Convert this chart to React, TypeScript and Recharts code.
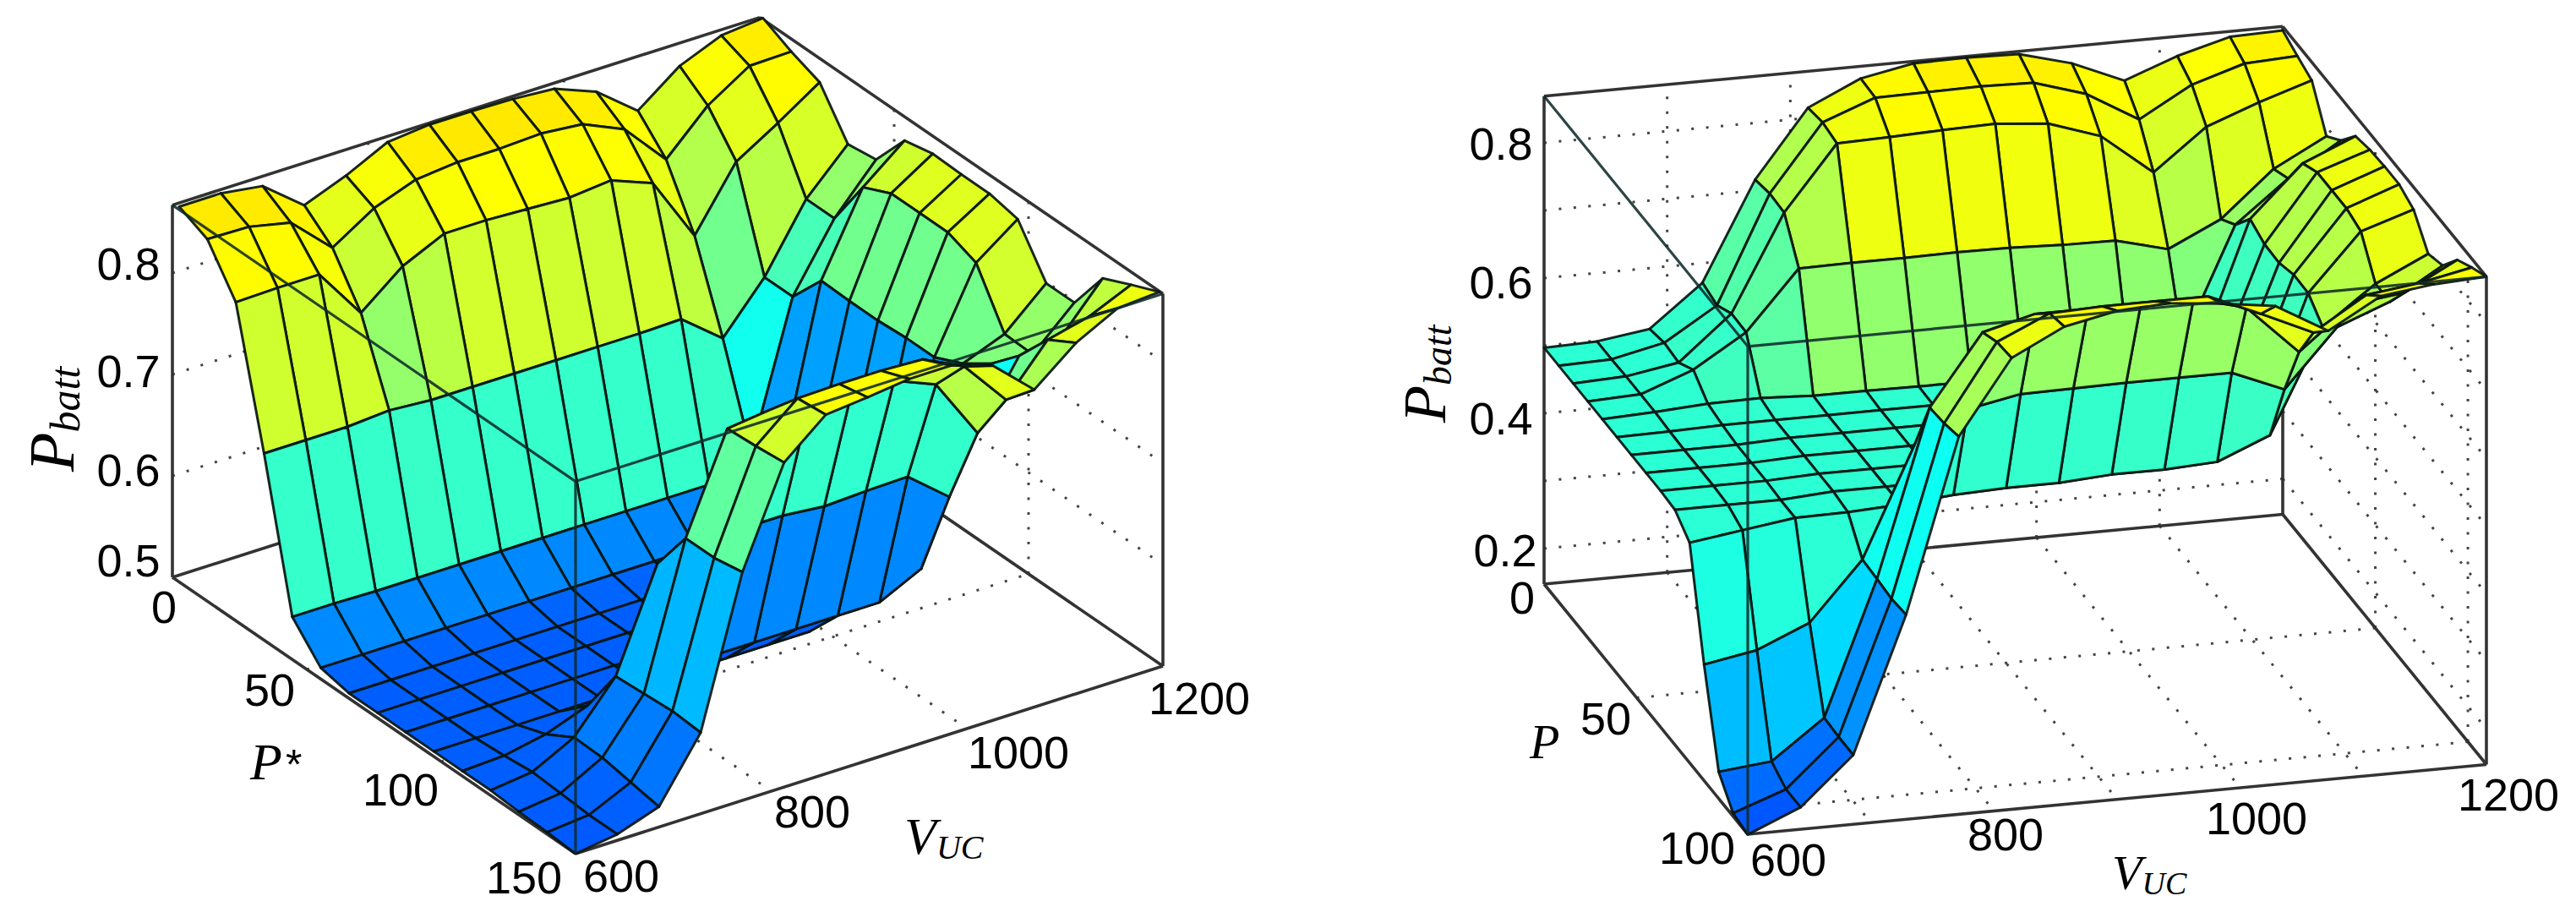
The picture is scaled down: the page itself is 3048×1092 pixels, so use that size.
import React from "react";
import { ScatterChart, Scatter, XAxis, YAxis } from "recharts";

// ---------- left panel data: P* (rows) x VUC (columns) -> Pbatt ----------
const leftP = [2.5, 13, 23.6, 34.1, 44.6, 55.2, 65.7, 76.3, 86.8, 97.3, 107.9, 118.4, 128.9, 139.5, 150];
const leftV = [600, 642.6, 685.2, 727.8, 770.4, 813, 855.6, 898.2, 940.8, 983.4, 1026, 1068.6, 1111.2, 1153.8, 1196.4];
const leftRow0 = [0.87, 0.87, 0.864, 0.832, 0.848, 0.868, 0.872, 0.872, 0.871, 0.868, 0.852, 0.82, 0.851, 0.868, 0.872];
const leftRow1 = [0.857, 0.856, 0.847, 0.809, 0.835, 0.85, 0.854, 0.854, 0.856, 0.852, 0.834, 0.791, 0.831, 0.857, 0.858];
const leftRow2 = [0.814, 0.815, 0.815, 0.764, 0.797, 0.816, 0.816, 0.814, 0.812, 0.816, 0.8, 0.735, 0.795, 0.82, 0.847];
const leftRow3 = [0.684, 0.684, 0.684, 0.687, 0.684, 0.684, 0.684, 0.684, 0.684, 0.684, 0.685, 0.653, 0.7, 0.764, 0.805];
const leftRow4 = [0.542, 0.542, 0.541, 0.541, 0.541, 0.541, 0.541, 0.541, 0.541, 0.541, 0.541, 0.56, 0.7, 0.764, 0.809];
const leftRow5 = [0.511, 0.511, 0.511, 0.511, 0.511, 0.511, 0.511, 0.511, 0.511, 0.511, 0.52, 0.56, 0.735, 0.814, 0.847];
const leftRow6 = [0.505, 0.505, 0.505, 0.505, 0.505, 0.505, 0.505, 0.505, 0.505, 0.505, 0.52, 0.56, 0.734, 0.827, 0.853];
const leftRow7 = [0.505, 0.505, 0.505, 0.505, 0.505, 0.505, 0.505, 0.505, 0.505, 0.505, 0.52, 0.56, 0.734, 0.827, 0.852];
const leftRow8 = [0.505, 0.505, 0.505, 0.505, 0.505, 0.505, 0.505, 0.505, 0.505, 0.505, 0.52, 0.56, 0.736, 0.827, 0.852];
const leftRow9 = [0.505, 0.505, 0.505, 0.505, 0.505, 0.505, 0.505, 0.505, 0.505, 0.505, 0.52, 0.56, 0.736, 0.816, 0.846];
const leftRow10 = [0.505, 0.507, 0.515, 0.53, 0.54, 0.54, 0.54, 0.54, 0.54, 0.54, 0.54, 0.56, 0.749, 0.765, 0.802];
const leftRow11 = [0.505, 0.51, 0.531, 0.578, 0.676, 0.68, 0.684, 0.684, 0.68, 0.682, 0.683, 0.65, 0.768, 0.764, 0.802];
const leftRow12 = [0.503, 0.508, 0.53, 0.58, 0.72, 0.815, 0.82, 0.82, 0.815, 0.81, 0.793, 0.732, 0.795, 0.8, 0.845];
const leftRow13 = [0.502, 0.506, 0.525, 0.582, 0.72, 0.817, 0.851, 0.852, 0.852, 0.85, 0.83, 0.784, 0.83, 0.84, 0.858];
const leftRow14 = [0.5, 0.506, 0.52, 0.58, 0.725, 0.82, 0.854, 0.858, 0.863, 0.863, 0.85, 0.813, 0.846, 0.867, 0.87];
const leftSurface = [leftRow0, leftRow1, leftRow2, leftRow3, leftRow4, leftRow5, leftRow6, leftRow7, leftRow8, leftRow9, leftRow10, leftRow11, leftRow12, leftRow13, leftRow14];

// ---------- right panel data: P (rows) x VUC (columns) -> Pbatt ----------
const rightP = [0, 7.9, 15.7, 23.6, 31.4, 39.3, 47.1, 55, 62.9, 70.7, 78.6, 86.4, 94.3, 102.1, 110];
const rightV = [600, 642.9, 685.7, 728.6, 771.4, 814.3, 857.1, 900, 942.9, 985.7, 1028.6, 1071.4, 1114.3, 1157.1, 1200];
const rightRow0 = [0.497, 0.499, 0.51, 0.571, 0.716, 0.815, 0.851, 0.866, 0.867, 0.865, 0.844, 0.811, 0.84, 0.861, 0.863];
const rightRow1 = [0.497, 0.499, 0.516, 0.564, 0.722, 0.82, 0.849, 0.85, 0.851, 0.849, 0.825, 0.78, 0.824, 0.848, 0.852];
const rightRow2 = [0.497, 0.5, 0.513, 0.578, 0.72, 0.815, 0.817, 0.82, 0.822, 0.815, 0.789, 0.728, 0.788, 0.817, 0.842];
const rightRow3 = [0.497, 0.5, 0.529, 0.577, 0.664, 0.665, 0.665, 0.666, 0.665, 0.662, 0.661, 0.641, 0.678, 0.745, 0.786];
const rightRow4 = [0.497, 0.5, 0.505, 0.506, 0.502, 0.502, 0.501, 0.501, 0.501, 0.501, 0.501, 0.53, 0.696, 0.757, 0.806];
const rightRow5 = [0.497, 0.498, 0.5, 0.5, 0.5, 0.5, 0.5, 0.5, 0.5, 0.5, 0.5, 0.53, 0.731, 0.806, 0.839];
const rightRow6 = [0.497, 0.497, 0.497, 0.5, 0.5, 0.5, 0.5, 0.5, 0.5, 0.5, 0.5, 0.53, 0.72, 0.819, 0.845];
const rightRow7 = [0.497, 0.497, 0.497, 0.5, 0.5, 0.5, 0.5, 0.5, 0.5, 0.5, 0.5, 0.53, 0.719, 0.819, 0.847];
const rightRow8 = [0.497, 0.497, 0.497, 0.5, 0.5, 0.5, 0.5, 0.5, 0.5, 0.5, 0.5, 0.53, 0.728, 0.819, 0.847];
const rightRow9 = [0.495, 0.495, 0.495, 0.5, 0.5, 0.5, 0.5, 0.5, 0.5, 0.5, 0.5, 0.53, 0.727, 0.811, 0.836];
const rightRow10 = [0.473, 0.484, 0.495, 0.496, 0.5, 0.507, 0.51, 0.51, 0.515, 0.515, 0.519, 0.551, 0.703, 0.76, 0.797];
const rightRow11 = [0.319, 0.333, 0.366, 0.452, 0.616, 0.66, 0.675, 0.676, 0.677, 0.677, 0.677, 0.645, 0.73, 0.76, 0.806];
const rightRow12 = [0.187, 0.195, 0.252, 0.45, 0.696, 0.8, 0.82, 0.82, 0.82, 0.82, 0.8, 0.727, 0.79, 0.8, 0.841];
const rightRow13 = [0.152, 0.18, 0.25, 0.447, 0.699, 0.812, 0.847, 0.85, 0.85, 0.85, 0.817, 0.782, 0.83, 0.84, 0.856];
const rightRow14 = [0.147, 0.18, 0.25, 0.45, 0.706, 0.815, 0.854, 0.87, 0.874, 0.866, 0.855, 0.811, 0.855, 0.865, 0.869];
const rightSurface = [rightRow0, rightRow1, rightRow2, rightRow3, rightRow4, rightRow5, rightRow6, rightRow7, rightRow8, rightRow9, rightRow10, rightRow11, rightRow12, rightRow13, rightRow14];

// ---------- tick values ----------
const leftZGrid = [0.6, 0.7, 0.8];
const leftVGrid = [800, 1000];
const leftPGrid = [50, 100];
const rightZGrid = [0.2, 0.3, 0.4, 0.5, 0.6, 0.7, 0.8];
const rightVGrid = [700, 800, 900, 1000, 1100];
const rightPGrid = [50, 100];

const tickTexts = [
  { t: "0.8", x: 152, y: 312 }, { t: "0.7", x: 152, y: 439 }, { t: "0.6", x: 152, y: 556 }, { t: "0.5", x: 152, y: 663 },
  { t: "0", x: 194, y: 718 }, { t: "50", x: 319, y: 816 }, { t: "100", x: 474, y: 934 }, { t: "150", x: 620, y: 1038 },
  { t: "600", x: 735, y: 1036 }, { t: "800", x: 961, y: 960 }, { t: "1000", x: 1205, y: 890 }, { t: "1200", x: 1419, y: 826 },
  { t: "0.8", x: 1776, y: 170 }, { t: "0.6", x: 1776, y: 334 }, { t: "0.4", x: 1776, y: 495 }, { t: "0.2", x: 1781, y: 651 },
  { t: "0", x: 1801, y: 707 }, { t: "50", x: 1900, y: 850 }, { t: "100", x: 2008, y: 1003 },
  { t: "600", x: 2116, y: 1017 }, { t: "800", x: 2373, y: 987 }, { t: "1000", x: 2670, y: 968 }, { t: "1200", x: 2968, y: 940 },
];
const mathTexts = [
  { x: 87, y: 558, main: "P", sub: "batt", size: 76, subSize: 50, rotate: true },
  { x: 296, y: 922, main: "P", sup: "*", size: 62, subSize: 50, rotate: false },
  { x: 1070, y: 1010, main: "V", sub: "UC", size: 62, subSize: 40, rotate: false },
  { x: 1710, y: 500, main: "P", sub: "batt", size: 72, subSize: 46, rotate: true },
  { x: 1810, y: 897, main: "P", size: 58, subSize: 40, rotate: false },
  { x: 2499, y: 1052, main: "V", sub: "UC", size: 58, subSize: 38, rotate: false },
];

// ---------- panel geometry (oblique projection of the 3-D box) ----------
type Panel = { ox: number; oy: number; px: number; py: number; vx: number; vy: number; zs: number; z0: number; zTop: number; pMax: number; cA: number; cB: number; c0: number };
const leftPanel: Panel = { ox: 204, oy: 683, px: 477, py: 327, vx: 695, vy: 222, zs: 1200, z0: 0.5, zTop: 0.867, pMax: 150, cA: 0.223, cB: 1.17, c0: 0.51 };
const rightPanel: Panel = { ox: 1827, oy: 691, px: 241, py: 296, vx: 874, vy: 82.5, zs: 800, z0: 0.1475, zTop: 0.869, pMax: 110, cA: 0.419, cB: 0.6, c0: 0.5 };

const project = (g: Panel, P: number, V: number, z: number): [number, number] => {
  const p = P / g.pMax;
  const v = (V - 600) / 600;
  return [g.ox + g.px * p + g.vx * v, g.oy + g.py * p - g.vy * v - g.zs * (z - g.z0)];
};

const clamp = (n: number) => Math.max(0, Math.min(1, n));
const jet = (t: number) => {
  const r = clamp(Math.min(4 * t - 1.5, -4 * t + 4.5));
  const g = clamp(Math.min(4 * t - 0.5, -4 * t + 3.5));
  const b = clamp(Math.min(4 * t + 0.5, -4 * t + 2.5));
  return `rgb(${Math.round(r * 255)},${Math.round(g * 255)},${Math.round(b * 255)})`;
};

type Shape = { x: number; y: number; pts: [number, number][]; fill?: string };
const makeShape = (pts: [number, number][], fill?: string): Shape => {
  const x = pts.reduce((s, q) => s + q[0], 0) / pts.length;
  const y = pts.reduce((s, q) => s + q[1], 0) / pts.length;
  return { x, y, pts, fill };
};

const surfaceQuads = (g: Panel, Ps: number[], Vs: number[], Z: number[][]): Shape[] => {
  const out: Shape[] = [];
  for (let i = 0; i < Ps.length - 1; i++) {
    for (let j = Vs.length - 2; j >= 0; j--) {
      out.push(
        makeShape(
          [
            project(g, Ps[i], Vs[j], Z[i][j]),
            project(g, Ps[i], Vs[j + 1], Z[i][j + 1]),
            project(g, Ps[i + 1], Vs[j + 1], Z[i + 1][j + 1]),
            project(g, Ps[i + 1], Vs[j], Z[i + 1][j]),
          ],
          jet(g.cA + g.cB * (Z[i][j] - g.c0)),
        ),
      );
    }
  }
  return out;
};

const seg = (g: Panel, a: [number, number, number], b: [number, number, number]) =>
  makeShape([project(g, a[0], a[1], a[2]), project(g, b[0], b[1], b[2])]);

const dottedGrid = (g: Panel, zs: number[], vs: number[], ps: number[]): Shape[] => {
  const out: Shape[] = [];
  zs.forEach((z) => {
    out.push(seg(g, [0, 600, z], [0, 1200, z]));
    out.push(seg(g, [0, 1200, z], [g.pMax, 1200, z]));
  });
  vs.forEach((v) => {
    out.push(seg(g, [0, v, g.z0], [0, v, g.zTop]));
    out.push(seg(g, [0, v, g.z0], [g.pMax, v, g.z0]));
  });
  ps.forEach((p) => {
    out.push(seg(g, [p, 1200, g.z0], [p, 1200, g.zTop]));
    out.push(seg(g, [p, 600, g.z0], [p, 1200, g.z0]));
  });
  return out;
};

const backBox = (g: Panel): Shape[] => {
  const m = g.pMax, a = g.z0, t = g.zTop;
  return [
    seg(g, [0, 600, a], [0, 600, t]),
    seg(g, [0, 600, t], [0, 1200, t]),
    seg(g, [0, 1200, t], [m, 1200, t]),
    seg(g, [m, 1200, t], [m, 1200, a]),
    seg(g, [m, 1200, a], [0, 1200, a]),
    seg(g, [0, 1200, a], [0, 600, a]),
    seg(g, [0, 600, a], [m, 600, a]),
    seg(g, [m, 600, a], [m, 1200, a]),
    seg(g, [0, 1200, a], [0, 1200, t]),
  ];
};
const frontBox = (g: Panel): Shape[] => {
  const m = g.pMax, a = g.z0, t = g.zTop;
  return [seg(g, [0, 600, t], [m, 600, t]), seg(g, [m, 600, t], [m, 1200, t]), seg(g, [m, 600, t], [m, 600, a])];
};

const pathOf = (cx: number, cy: number, d: Shape) =>
  d.pts.map((q) => `${cx + q[0] - d.x},${cy + q[1] - d.y}`).join(" ");

const DotLine = (props: any) => (
  <polyline points={pathOf(props.cx, props.cy, props.payload)} fill="none" stroke="#444" strokeWidth={3} strokeDasharray="3 14.5" />
);
const BoxLine = (props: any) => (
  <polyline points={pathOf(props.cx, props.cy, props.payload)} fill="none" stroke="#333" strokeWidth={3.6} />
);
const FrontLine = (props: any) => (
  <polyline points={pathOf(props.cx, props.cy, props.payload)} fill="none" stroke="#0f2a2a" strokeOpacity={0.88} strokeWidth={3.2} />
);
const Quad = (props: any) => (
  <polygon
    points={pathOf(props.cx, props.cy, props.payload)}
    fill={props.payload.fill}
    stroke="#06140f"
    strokeOpacity={0.92}
    strokeWidth={3}
    strokeLinejoin="round"
  />
);
const TickText = (props: any) => (
  <text x={props.cx} y={props.cy} textAnchor="middle" dominantBaseline="central" fontFamily="'Liberation Sans', Arial, sans-serif" fontSize={54} fill="#000">
    {props.payload.t}
  </text>
);
const MathText = (props: any) => {
  const d = props.payload;
  return (
    <text
      x={props.cx}
      y={props.cy}
      transform={d.rotate ? `rotate(-90 ${props.cx} ${props.cy})` : undefined}
      fontFamily="'Liberation Serif', 'Times New Roman', serif"
      fontStyle="italic"
      fontSize={d.size}
      fill="#000"
    >
      {d.main}
      {d.sub ? <tspan fontSize={d.subSize} dy={d.rotate ? 7 : 6}>{d.sub}</tspan> : null}
      {d.sup ? <tspan fontStyle="normal" fontFamily="'Liberation Sans', sans-serif" fontSize={d.subSize} dx={4}>{d.sup}</tspan> : null}
    </text>
  );
};

const dots = [...dottedGrid(leftPanel, leftZGrid, leftVGrid, leftPGrid), ...dottedGrid(rightPanel, rightZGrid, rightVGrid, rightPGrid)];
const boxes = [...backBox(leftPanel), ...backBox(rightPanel)];
const quads = [...surfaceQuads(leftPanel, leftP, leftV, leftSurface), ...surfaceQuads(rightPanel, rightP, rightV, rightSurface)];
const fronts = [...frontBox(leftPanel), ...frontBox(rightPanel)];

export default function App() {
  return (
    <div style={{ position: "absolute", left: 0, top: 0, background: "#fff" }}>
      <ScatterChart width={3048} height={1092} margin={{ top: 0, right: 0, bottom: 0, left: 0 }}>
        <XAxis type="number" dataKey="x" domain={[0, 3048]} allowDataOverflow hide />
        <YAxis type="number" dataKey="y" domain={[0, 1092]} reversed allowDataOverflow hide />
        <Scatter data={dots} shape={DotLine} isAnimationActive={false} />
        <Scatter data={boxes} shape={BoxLine} isAnimationActive={false} />
        <Scatter data={quads} shape={Quad} isAnimationActive={false} />
        <Scatter data={fronts} shape={FrontLine} isAnimationActive={false} />
        <Scatter data={tickTexts} shape={TickText} isAnimationActive={false} />
        <Scatter data={mathTexts} shape={MathText} isAnimationActive={false} />
      </ScatterChart>
    </div>
  );
}
